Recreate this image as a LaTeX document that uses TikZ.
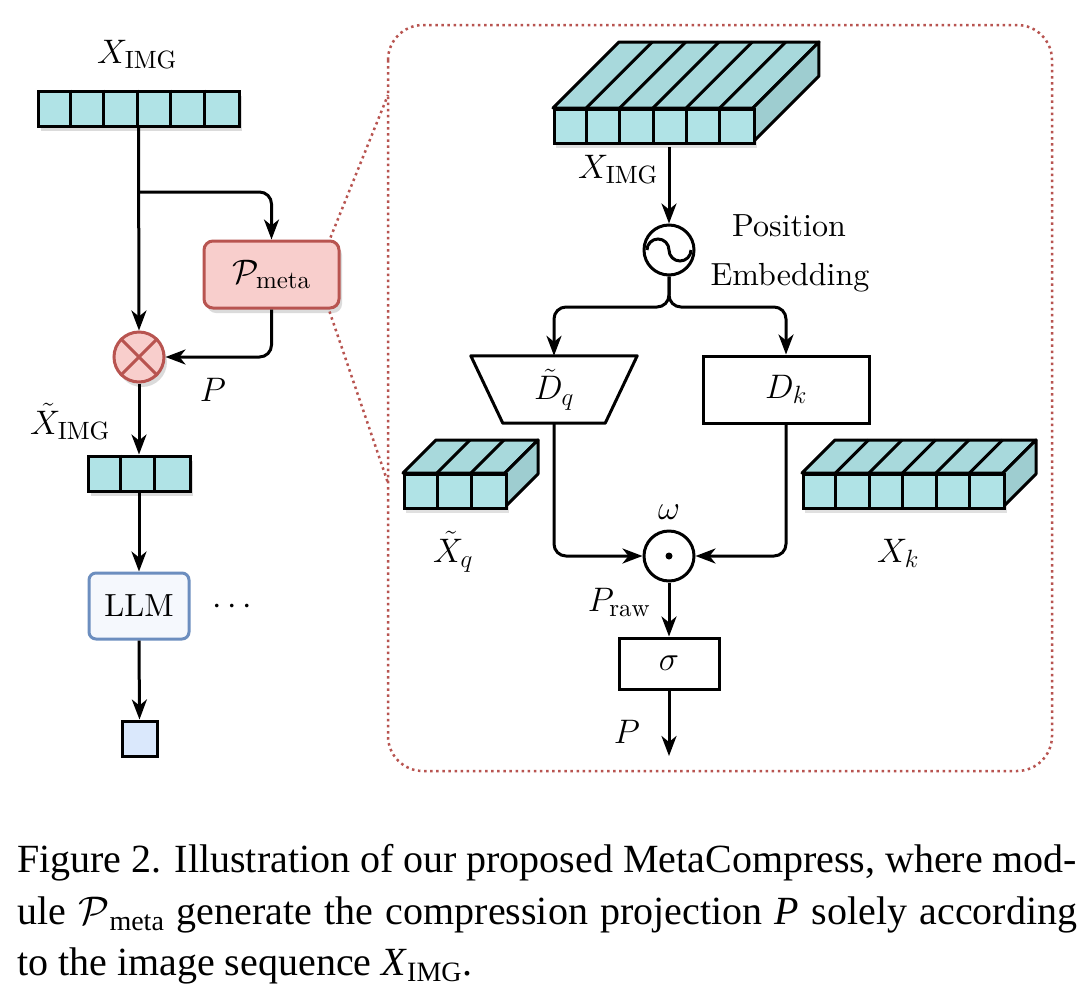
\RequirePackage{fix-cm}
\documentclass[tikz,border=0pt]{standalone}
\usepackage{fontspec}
\setmainfont{lmroman10-regular.otf}[ItalicFont=lmroman10-italic.otf, BoldFont=lmroman10-bold.otf]
\newfontfamily\capfont{Liberation Serif}
\DeclareMathSizes{34}{34}{25}{18}
\usetikzlibrary{arrows.meta,calc,shadows}
\definecolor{cyanf}{HTML}{B0E3E6}
\definecolor{cyant}{HTML}{A8D9DC}
\definecolor{cyans}{HTML}{9ECDD0}
\definecolor{redf}{HTML}{F8CECC}
\definecolor{redd}{HTML}{B85450}
\definecolor{bluef}{HTML}{DAE8FC}
\definecolor{blued}{HTML}{6C8EBF}
\definecolor{llmf}{HTML}{F5F8FD}
\tikzset{
  ln/.style={line width=3pt},
  arr/.style={line width=3pt, -{Stealth[length=20pt,width=15pt,inset=6pt]}},
  lbl/.style={font=\fontsize{34}{40}\selectfont, inner sep=0pt},
  txt/.style={font=\fontsize{32}{38}\selectfont, inner sep=0pt},
  capf/.style={font=\capfont\fontsize{40}{50}\selectfont, inner sep=0pt},
  softshadow/.style={drop shadow={shadow xshift=3pt,shadow yshift=-5pt,opacity=0.14,fill=black}},
  barbox/.style={draw, line width=3pt, fill=cyanf, minimum height=35pt, inner sep=0pt, softshadow},
  plainbox/.style={draw, line width=3pt, fill=white, inner sep=0pt, font=\fontsize{34}{40}\selectfont},
  zoomline/.style={draw=redd, line width=2.5pt, dash pattern=on 2.5pt off 3.6pt},
}
\newcommand\tokblock[6]{% name, xleft, ytop, n, w, d
  \pgfmathsetmacro\bw{#4*#5}
  \pgfmathtruncatemacro\nm{#4-1}
  \fill[black,opacity=0.12] (#2+3,#3+8) rectangle (#2+\bw+4,#3+40);
  \filldraw[ln, fill=cyant, line join=round] (#2,#3) -- (#2+#6,#3-#6) -- (#2+\bw+#6,#3-#6) -- (#2+\bw,#3) -- cycle;
  \filldraw[ln, fill=cyans, line join=round] (#2+\bw,#3) -- (#2+\bw+#6,#3-#6) -- (#2+\bw+#6,#3+34-#6) -- (#2+\bw,#3+34) -- cycle;
  \node[draw, ln, fill=cyanf, minimum width=\bw pt, minimum height=34pt, inner sep=0pt, anchor=north west] (#1) at (#2,#3) {};
  \foreach \i in {1,...,\nm}{
    \draw[ln] (#2+\i*#5,#3) -- (#2+\i*#5,#3+34);
    \draw[ln] (#2+\i*#5,#3) -- (#2+\i*#5+#6,#3-#6);
  }
}
\begin{document}
\begin{tikzpicture}[x=1pt,y=-1pt]
\fill[white] (0,0) rectangle (1086,996);
\useasboundingbox (0,0) rectangle (1086,996);

% ---------- left column ----------
\node[lbl, anchor=base] (lximg) at (137,63) {$X_{\mathrm{IMG}}$};
\node[barbox, minimum width=201pt] (lbar) at (138.5,108.5) {};
\foreach \i in {1,...,5}
  \draw[ln] ($(lbar.north west)+(\i*33.5,0)$) -- ($(lbar.south west)+(\i*33.5,0)$);

% zoom connectors (behind P_meta)
\coordinate (zt) at (388,95);
\coordinate (zb) at (388,483);
\node[draw=redd, line width=3pt, fill=redf, rounded corners=9pt, minimum width=135pt, minimum height=67pt, inner sep=0pt,
      font=\fontsize{34}{40}\selectfont, softshadow] (pmeta) at (271.5,274.5) {$\mathcal{P}_{\mathrm{meta}}$};
\draw[zoomline] ($(pmeta.north east)+(-10,-2)$) -- (zt);
\draw[zoomline] ($(pmeta.south east)+(-11,2)$) -- (zb);

\coordinate (split) at (139,192);
\node[circle, draw=redd, line width=3pt, fill=redf, minimum size=50pt, inner sep=0pt, softshadow] (otimes) at (139,357) {};
\draw[redd, line width=3pt] (otimes.north west) -- (otimes.south east) (otimes.north east) -- (otimes.south west);

\draw[arr] (lbar.south) -- (otimes.north);
\draw[arr, rounded corners=12pt] (split) -| (pmeta.north);
\draw[arr, rounded corners=12pt] (pmeta.south) |- (otimes.east);
\node[lbl, anchor=base] (lp) at (213,401) {$P$};

\node[lbl, anchor=base] (lxt) at (70,434) {$\tilde{X}_{\mathrm{IMG}}$};
\node[barbox, minimum width=102pt] (sbar) at (139,473.5) {};
\foreach \i in {1,2}
  \draw[ln] ($(sbar.north west)+(\i*34,0)$) -- ($(sbar.south west)+(\i*34,0)$);
\draw[arr] (otimes.south) -- (sbar.north);

\node[draw=blued, line width=3pt, fill=llmf, rounded corners=7pt, minimum width=100pt, minimum height=66pt, inner sep=0pt,
      font=\fontsize{32}{38}\selectfont] (llm) at (139,606) {LLM};
\node[lbl, anchor=base] (dots) at (232,614) {$\cdots$};
\draw[arr] (sbar.south) -- (llm.north);

\node[draw, line width=3pt, fill=bluef, minimum size=35pt, inner sep=0pt] (outsq) at (139.5,738.5) {};
\draw[arr] (llm.south) -- (outsq.north);

% ---------- zoom frame ----------
\draw[zoomline, rounded corners=35pt] (388,25) rectangle (1052,771);

% top token block
\tokblock{xblk}{553}{108}{6}{33.33}{66}
\node[lbl, anchor=base] (rximg) at (618,178) {$X_{\mathrm{IMG}}$};
\coordinate (xin) at (669,147);

\node[circle, draw, line width=3pt, fill=white, minimum size=50pt, inner sep=0pt] (pe) at (669,250) {};
\draw[line width=3pt] ($(pe.center)+(-22,0)$) arc[start angle=180, end angle=360, radius=11]
                                              arc[start angle=180, end angle=0, radius=11];
\draw[arr] (xin) -- (pe.north);
\node[txt, anchor=base] (pos1) at (789,236) {Position};
\node[txt, anchor=base] (pos2) at (790,285) {Embedding};

\coordinate (jn) at (669,307);
\node[inner sep=0pt, minimum width=166pt, minimum height=67pt, font=\fontsize{34}{40}\selectfont] (dq) at (554,389.5) {$\tilde{D}_q$};
\draw[ln, line join=round] (dq.north west) -- (dq.north east) -- ($(dq.south east)+(-32,0)$) -- ($(dq.south west)+(32,0)$) -- cycle;
\node[plainbox, minimum width=166pt, minimum height=67pt] (dk) at (786,389.5) {$D_k$};

\draw[arr, rounded corners=12pt] (pe.south) -- (jn) -| (dq.north);
\draw[arr, rounded corners=12pt] (pe.south) -- (jn) -| (dk.north);

% side blocks
\tokblock{xq}{403}{473}{3}{34}{33}
\node[lbl, anchor=base] (lxq) at (453,562) {$\tilde{X}_q$};
\tokblock{xk}{802}{473}{6}{33.5}{33}
\node[lbl, anchor=base] (lxk) at (898,562) {$X_k$};

% dot product
\node[circle, draw, line width=3pt, fill=white, minimum size=50pt, inner sep=0pt] (dotp) at (669,556) {};
\fill (dotp.center) circle[radius=3.5];
\node[lbl] (lw) at (669,512) {$\omega$};
\draw[arr, rounded corners=12pt] (dq.south) |- (dotp.west);
\draw[arr, rounded corners=12pt] (dk.south) |- (dotp.east);

\node[plainbox, minimum width=100pt, minimum height=51pt] (sig) at (669,663.5) {$\sigma$};
\draw[arr] (dotp.south) -- (sig.north);
\node[lbl, anchor=base] (lpraw) at (619,611) {$P_{\mathrm{raw}}$};
\coordinate (pout) at (669,756);
\draw[arr] (sig.south) -- (pout);
\node[lbl, anchor=base] (lpo) at (627,743) {$P$};

% ---------- caption ----------
\node[capf, anchor=base west] (cap1) at (17,872) {\makebox[1060pt][s]{Figure 2. Illustration of our proposed MetaCompress, where mod-}};
\node[capf, anchor=base west] (cap2) at (17,924) {\makebox[1060pt][s]{ule $\mathcal{P}$\textsubscript{meta} generate the compression projection \textit{P} solely according}};
\node[capf, anchor=base west] (cap3) at (17,975) {to the image sequence \textit{X}\textsubscript{IMG}.};
\end{tikzpicture}
\end{document}
